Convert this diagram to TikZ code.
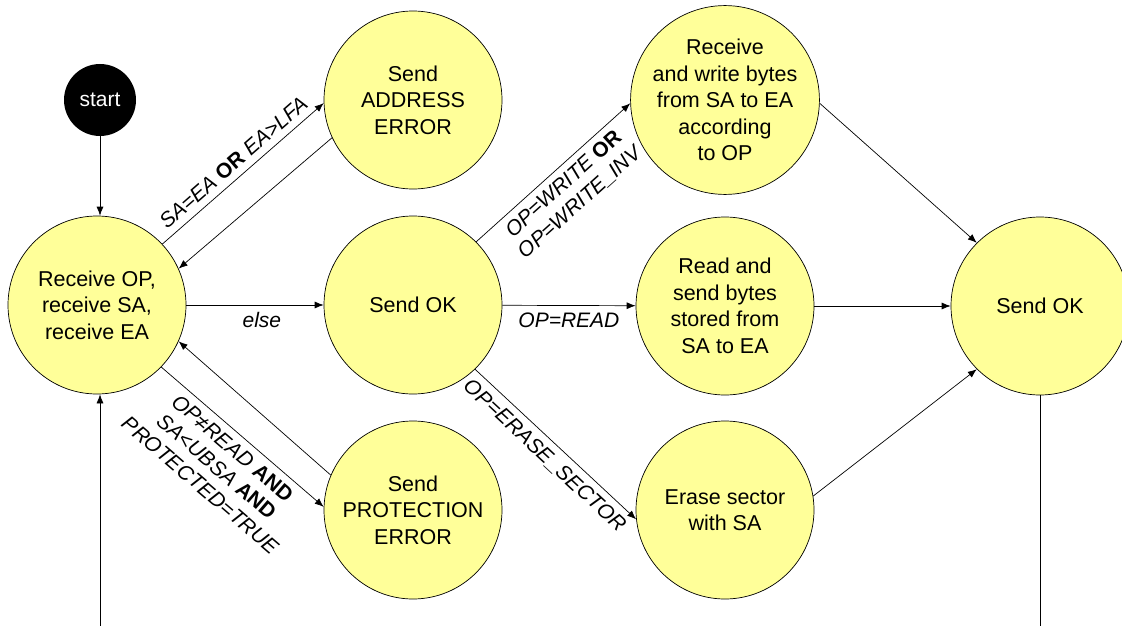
\documentclass[tikz,border=0pt]{standalone}
\usepackage{fontspec}
\setmainfont{Liberation Sans}
\usetikzlibrary{arrows.meta}
\definecolor{stateyellow}{HTML}{FFFF99}

\begin{document}
\begin{tikzpicture}[x=1pt, y=-1pt, line width=0.7pt,
    state/.style={circle, draw, fill=stateyellow, minimum size=178pt, inner sep=0pt,
        align=center, font=\fontsize{21.5}{26.5}\selectfont},
    trans/.style={-{Latex[length=9pt,width=7pt]}},
    cond/.style={font=\fontsize{21}{24.5}\selectfont\itshape, align=center, sloped, inner sep=7pt}]
    \useasboundingbox (0,0) rectangle (1122,626);

    % states
    \node[circle, fill=black, text=white, minimum size=72pt, inner sep=0pt,
        font=\fontsize{21}{24}\selectfont] (start) at (100,100) {start};
    \node[state] (recv) at (97,305) {Receive OP,\\receive SA,\\receive EA};
    \node[state] (addr) at (413,100) {Send\\ADDRESS\\ERROR};
    \node[state] (ok1) at (413,305) {Send OK};
    \node[state] (prot) at (413,510) {Send\\PROTECTION\\ERROR};
    \node[state] (write) at (725,100) {Receive\\and write bytes\\from SA to EA\\according\\to OP};
    \node[state] (read) at (725,306) {Read and\\send bytes\\stored from\\SA to EA};
    \node[state] (erase) at (725,510) {Erase sector\\with SA};
    \node[state] (ok2) at (1040,306) {Send OK};
    \coordinate (loopL) at (100,626);
    \coordinate (loopR) at (1040,626);

    % transitions
    \draw[trans] (start) -- (recv.north -| start);
    \draw[trans] (recv.43) -- (addr.182)
        node[cond, midway, above] {SA=EA \textbf{\upshape OR} EA>LFA};
    \draw[trans] (addr.205) -- (recv.24);
    \draw[trans] (recv) -- (ok1) node[cond, pos=0.55, below] {else};
    \draw[trans] (recv.316) -- (prot.178)
        node[cond, midway, below] {OP≠READ \textbf{\upshape AND}\\SA<UBSA \textbf{\upshape AND}\\PROTECTED=TRUE};
    \draw[trans] (prot.157) -- (recv.336);
    \draw[trans] (ok1.45) -- (write.182)
        node[cond, midway, below] {OP=WRITE \textbf{\upshape OR}\\OP=WRITE\_INV};
    \draw[trans] (ok1) -- (read) node[cond, midway, below] {OP=READ};
    \draw[trans] (ok1.314) -- (erase.186)
        node[cond, midway, below] {OP=ERASE\_SECTOR};
    \draw[trans] (write.358) -- (ok2.135);
    \draw[trans] (read) -- (ok2);
    \draw[trans] (erase.9) -- (ok2.225);
    \draw (ok2) -- (loopR);
    \draw[trans] (loopL) -- (loopL |- recv.south);
\end{tikzpicture}
\end{document}
